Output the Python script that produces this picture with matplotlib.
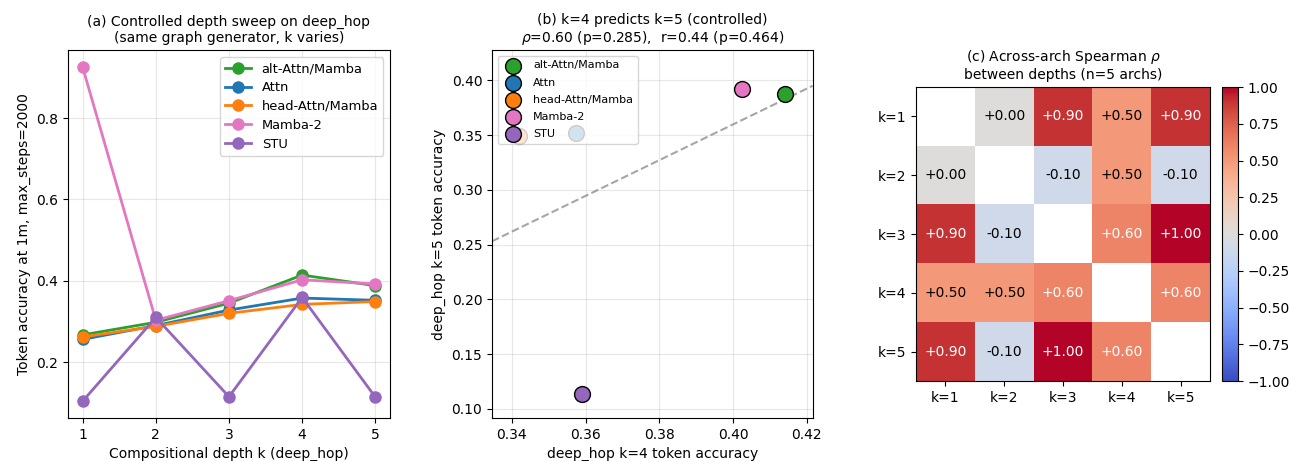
import numpy as np
import matplotlib
matplotlib.use("Agg")
import matplotlib.pyplot as plt

archs = ["alt-Attn/Mamba", "Attn", "head-Attn/Mamba", "Mamba-2", "STU"]
colors = ["tab:green", "tab:blue", "tab:orange", "tab:pink", "tab:purple"]
depths = [1, 2, 3, 4, 5]

acc = {
    "alt-Attn/Mamba":  [0.267, 0.298, 0.345, 0.414, 0.388],
    "Attn":            [0.256, 0.290, 0.328, 0.3575, 0.352],
    "head-Attn/Mamba": [0.262, 0.288, 0.320, 0.342, 0.349],
    "Mamba-2":         [0.925, 0.303, 0.351, 0.4025, 0.392],
    "STU":             [0.104, 0.310, 0.115, 0.359, 0.114],
}

rho = np.array([
    [np.nan, 0.00, 0.90, 0.50, 0.90],
    [0.00, np.nan, -0.10, 0.50, -0.10],
    [0.90, -0.10, np.nan, 0.60, 1.00],
    [0.50, 0.50, 0.60, np.nan, 0.60],
    [0.90, -0.10, 1.00, 0.60, np.nan],
])
klabels = ["k=1", "k=2", "k=3", "k=4", "k=5"]

fig = plt.figure(figsize=(12.93, 4.61), dpi=100)

# (a) depth sweep
ax1 = fig.add_axes([0.0526, 0.0935, 0.249, 0.797])
for name, c in zip(archs, colors):
    ax1.plot(depths, acc[name], "-o", color=c, lw=2, ms=8, label=name)
ax1.set_xticks(depths)
ax1.set_xlabel("Compositional depth k (deep_hop)")
ax1.set_ylabel("Token accuracy at 1m, max_steps=2000")
ax1.set_title("(a) Controlled depth sweep on deep_hop\n(same graph generator, k varies)", fontsize=10)
ax1.grid(alpha=0.3)
ax1.legend(loc="upper right", fontsize=9.4, labelspacing=0.45)

# (b) k=4 vs k=5
ax2 = fig.add_axes([0.3805, 0.0935, 0.248, 0.797])
x4 = np.array([acc[n][3] for n in archs])
y5 = np.array([acc[n][4] for n in archs])
for name, c, xv, yv in zip(archs, colors, x4, y5):
    ax2.scatter(xv, yv, s=130, color=c, edgecolor="black", zorder=3, label=name)
slope, icpt = np.polyfit(x4, y5, 1)
xx = np.linspace(0.3346, 0.4216, 50)
ax2.plot(xx, slope * xx + icpt, "--", color="gray", alpha=0.7, lw=1.5, zorder=2)
ax2.set_xlim(0.3346, 0.4216)
ax2.set_ylim(0.0918, 0.4273)
ax2.set_xlabel("deep_hop k=4 token accuracy")
ax2.set_ylabel("deep_hop k=5 token accuracy")
ax2.set_title("(b) k=4 predicts k=5 (controlled)\n$\\rho$=0.60 (p=0.285),  r=0.44 (p=0.464)", fontsize=10)
ax2.grid(alpha=0.3)
leg = ax2.legend(loc="upper left", fontsize=8, labelspacing=0.65)
leg.set_zorder(10)

# (c) heatmap
ax3 = fig.add_axes([0.7084, 0.1735, 0.2274, 0.6377])
im = ax3.imshow(rho, cmap="coolwarm", vmin=-1, vmax=1)
ax3.set_xticks(range(5))
ax3.set_xticklabels(klabels)
ax3.set_yticks(range(5))
ax3.set_yticklabels(klabels)
for i in range(5):
    for j in range(5):
        v = rho[i, j]
        if np.isnan(v):
            continue
        ax3.text(j, i, f"{v:+.2f}", ha="center", va="center",
                 color="white" if abs(v) > 0.5 else "black", fontsize=10)
ax3.set_title("(c) Across-arch Spearman $\\rho$\nbetween depths (n=5 archs)", fontsize=10)
cax = fig.add_axes([0.945, 0.1735, 0.0124, 0.6377])
fig.colorbar(im, cax=cax)

fig.savefig("out.png", dpi=100)
